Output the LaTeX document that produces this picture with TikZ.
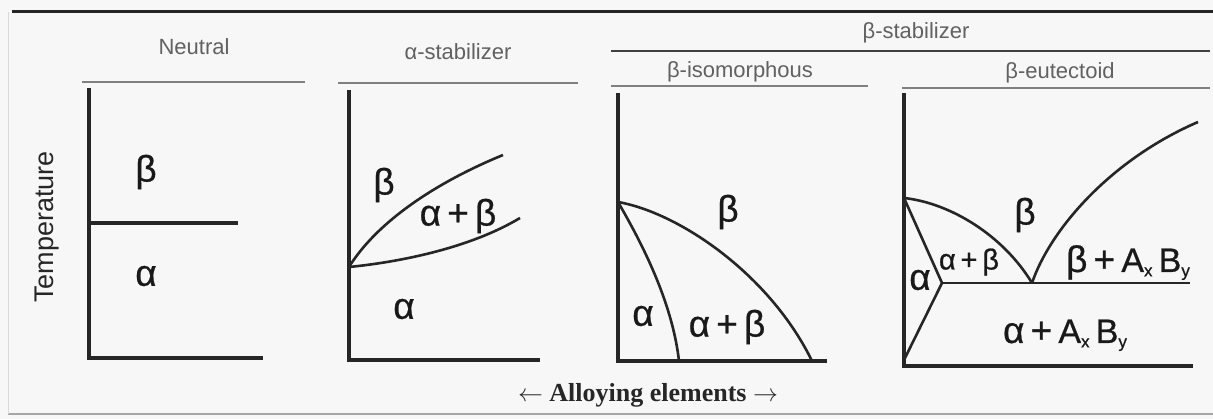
\documentclass[tikz,border=0pt]{standalone}
\usepackage{fontspec}
\setmainfont{Liberation Sans}
\newfontfamily\alloyfont{Liberation Serif}
\newfontfamily\phasefont{Liberation Sans}[FakeBold=0.7]
\newcommand\lowidx[1]{\raisebox{-0.12em}{\fontsize{17}{18}\selectfont #1}}
\newcommand\capsize{\fontsize{34}{36}\selectfont}
\tikzset{
  axisline/.style={line width=3.2pt, draw=black!85},
  phasecurve/.style={line width=2.6pt, draw=black!85},
  header/.style={text=black!62, font=\fontsize{22}{24}\selectfont, inner sep=0pt},
  headrule/.style={draw=black!50, line width=1.3pt},
  phase/.style={text=black!90, font=\phasefont\fontsize{37}{40}\selectfont, inner sep=0pt},
  smallphase/.style={text=black!90, font=\phasefont\fontsize{29}{32}\selectfont, inner sep=0pt},
}
\begin{document}
\begin{tikzpicture}[x=1pt,y=-1pt]
\useasboundingbox[fill=black!3] (0,0) rectangle (1213,419);
% scan frame
\draw[line width=3pt, black!85] (12,12) -- (1213,12);
\draw[line width=1.2pt, black!35] (8,414) -- (1213,414);
\draw[line width=0.8pt, black!15] (8,12) -- (8,414);

% ---------- Panel 1: Neutral ----------
\node[header] (hneutral) at (194,47) {Neutral};
\draw[headrule] (82,82) -- (305,82);
\coordinate (n1top) at (89,88);
\coordinate (n1o) at (89,358);
\coordinate (n1x) at (263,358);
\coordinate (n1m) at (89,223);
\coordinate (n1me) at (238,223);
\draw[axisline] (n1top) -- (n1o) -- (n1x);
\draw[axisline] (n1m) -- (n1me);
\node[phase] (n1beta) at (146,172) {β};
\node[phase] (n1alpha) at (146,276) {α};
\node[text=black!85, font=\fontsize{27}{30}\selectfont, rotate=90, inner sep=0pt] (temp) at (47,227) {Temperature};

% ---------- Panel 2: alpha-stabilizer ----------
\node[header] (halpha) at (458,52) {α-stabilizer};
\draw[headrule] (338,83) -- (578,83);
\coordinate (a2top) at (349,90);
\coordinate (a2o) at (349,360);
\coordinate (a2x) at (540,360);
\coordinate (a2p) at (349,267);
\coordinate (a2u) at (503,155);
\coordinate (a2l) at (520,218);
\draw[axisline] (a2top) -- (a2o) -- (a2x);
\draw[phasecurve] (a2p) .. controls (375,225) and (430,185) .. (a2u);
\draw[phasecurve] (a2p) .. controls (400,262) and (470,248) .. (a2l);
\node[phase] (a2beta) at (384,185) {β};
\node[phase] (a2ab) at (458,216) {α\,+\,β};
\node[phase] (a2alpha) at (404,309) {α};

% ---------- beta-stabilizer header ----------
\node[header] (hbeta) at (916,33) {β-stabilizer};
\draw[line width=1.8pt, black!75] (611,51) -- (1210,51);

% ---------- Panel 3: beta-isomorphous ----------
\node[header] (hiso) at (740,72) {β-isomorphous};
\draw[headrule] (611,86) -- (868,86);
\coordinate (b3top) at (618,93);
\coordinate (b3o) at (618,361);
\coordinate (b3x) at (827,361);
\coordinate (b3p) at (618,202);
\coordinate (b3outer) at (812,361);
\coordinate (b3inner) at (679,361);
\draw[axisline] (b3top) -- (b3o) -- (b3x);
\draw[phasecurve] (b3p) .. controls (680,213) and (770,275) .. (b3outer);
\draw[phasecurve] (b3p) .. controls (640,240) and (672,300) .. (b3inner);
\node[phase] (b3beta) at (728,212) {β};
\node[phase] (b3alpha) at (643,316) {α};
\node[phase] (b3ab) at (727,327) {α\,+\,β};

% ---------- Panel 4: beta-eutectoid ----------
\node[header] (heut) at (1060,73) {β-eutectoid};
\draw[headrule] (902,88) -- (1210,88);
\coordinate (e4top) at (904,93);
\coordinate (e4o) at (904,366);
\coordinate (e4x) at (1193,366);
\coordinate (e4p) at (904,198);
\coordinate (e4t) at (942,283);
\coordinate (e4b) at (904,360);
\coordinate (e4e) at (1032,283);
\coordinate (e4r) at (1190,283);
\coordinate (e4c) at (1198,122);
\draw[axisline] (e4top) -- (e4o) -- (e4x);
\draw[phasecurve] (e4p) -- (e4t) -- (e4b);
\draw[phasecurve] (e4t) -- (e4r);
\draw[phasecurve] (e4p) .. controls (950,203) and (1003,235) .. (e4e);
\draw[phasecurve] (e4e) .. controls (1050,230) and (1110,160) .. (e4c);
\node[phase] (e4beta) at (1025,215) {β};
\node[phase] (e4alpha) at (920,280) {α};
\node[smallphase] (e4ab) at (969,262) {α\,+\,β};
\node[phase, anchor=base] (e4bab) at (1128,272) {β\,+\,{\capsize A}\lowidx{x}\,{\capsize B}\lowidx{y}};
\node[phase, anchor=base] (e4aab) at (1065,343) {α\,+\,{\capsize A}\lowidx{x}\,{\capsize B}\lowidx{y}};

% ---------- bottom label ----------
\node[text=black!85, font=\alloyfont\bfseries\fontsize{26}{30}\selectfont, inner sep=0pt] (alloy) at (648,395) {$\leftarrow$ Alloying elements $\rightarrow$};
\end{tikzpicture}
\end{document}
